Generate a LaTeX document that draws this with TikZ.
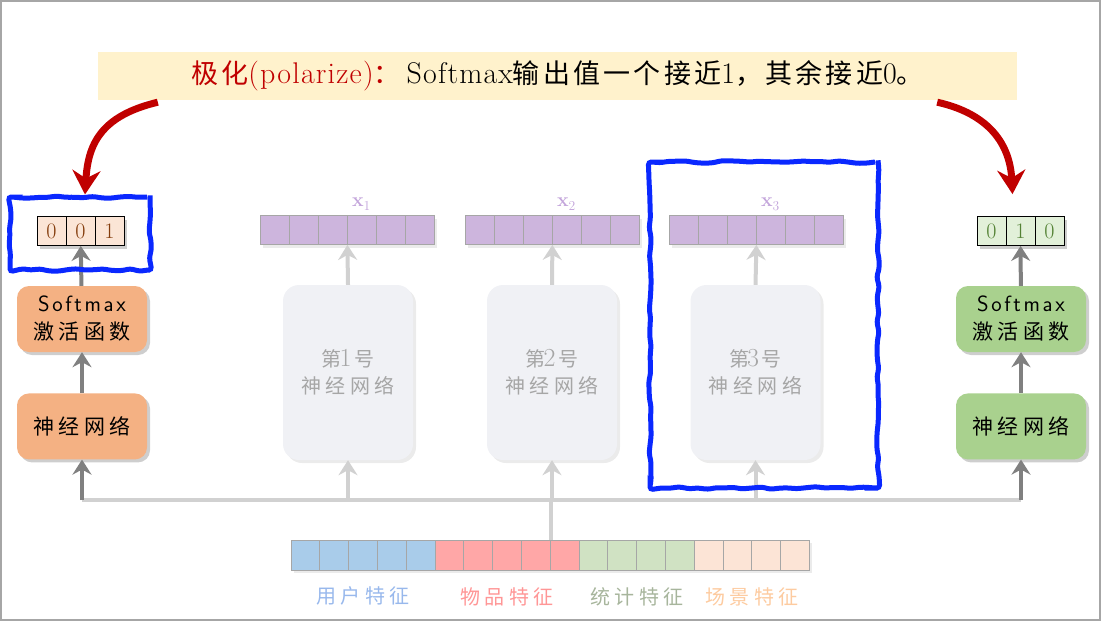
\documentclass[tikz,border=0pt]{standalone}
\usepackage{fontspec}
\setmainfont{Latin Modern Roman}[Scale=1.3]
\setsansfont{Latin Modern Sans}[Scale=1.3, LetterSpace=12]
\newfontfamily\cjk[LetterSpace=22]{Noto Sans CJK SC}
\newfontfamily\cjkt[LetterSpace=12]{Noto Sans CJK SC}
\usetikzlibrary{positioning, arrows.meta, calc, shadows, decorations.pathmorphing}

\definecolor{titlebg}{HTML}{FFF2CC}
\definecolor{tred}{HTML}{C00000}
\definecolor{obox}{HTML}{F4B183}
\definecolor{ocell}{HTML}{FBE5D6}
\definecolor{otext}{HTML}{843C0C}
\definecolor{gbox}{HTML}{A9D18E}
\definecolor{gcell}{HTML}{E2F0D9}
\definecolor{gtext}{HTML}{548235}
\definecolor{pcell}{HTML}{CDB5DD}
\definecolor{ptext}{HTML}{C3A5DB}
\definecolor{netbg}{HTML}{F0F1F5}
\definecolor{nettext}{HTML}{A6A6A6}
\definecolor{hlblue}{HTML}{0A28FF}
\definecolor{fblue}{HTML}{A9CCEA}
\definecolor{fred}{HTML}{FFA7A7}
\definecolor{fgreen}{HTML}{D0E2C3}
\definecolor{fpeach}{HTML}{FCE4D6}
\newcommand{\tcjk}[1]{{\cjkt\fontsize{27}{30}\selectfont #1}}

\begin{document}
\begin{tikzpicture}[x=1pt, y=-1pt, font=\fontsize{20}{25}\selectfont,
  garrow/.style={line width=4pt, -{Stealth[length=15pt, width=19pt, inset=5pt]}},
  darrow/.style={garrow, draw=black!50},
  larrow/.style={garrow, draw=black!18},
  bus/.style={line width=4pt, draw=black!18},
  redarrow/.style={line width=7pt, draw=tred, -{Stealth[length=24pt, width=28pt, inset=8pt]}},
  shd/.style={drop shadow={shadow xshift=3pt, shadow yshift=-3pt, opacity=0.35, fill=black!55}},
  lshd/.style={drop shadow={shadow xshift=3pt, shadow yshift=-3pt, opacity=0.2, fill=black!40}},
  box/.style={rounded corners=12pt, minimum width=130pt, minimum height=66pt, align=center, inner sep=2pt, shd},
  netbox/.style={fill=netbg, rounded corners=16pt, minimum width=130pt, minimum height=175pt, align=center, text=nettext, lshd},
  cell/.style={draw=black!35, minimum width=29pt, minimum height=29pt, inner sep=0pt, line width=0.8pt},
  bcell/.style={draw=black, minimum width=29pt, minimum height=29pt, inner sep=0pt, line width=0.8pt, font=\fontsize{17}{18}\selectfont},
  hl/.style={draw=hlblue, line width=5pt, rounded corners=3pt, decorate,
    decoration={random steps, segment length=9pt, amplitude=1.3pt}}]
  \useasboundingbox (0,0) rectangle (1102,621);
  \draw[black!35, line width=1.5pt] (1,1) rectangle (1100,620);
  \pgfmathsetseed{7}

  % title
  \node[fill=titlebg, minimum width=919pt, minimum height=48pt, font=\fontsize{23}{26}\selectfont\addfontfeature{LetterSpace=4}] (title) at (557.5,76)
    {{\color{tred}\tcjk{极化}(polarize)\tcjk{：}}\hspace{6pt}Softmax\tcjk{输出值一个接近}1\tcjk{，其余接近}0\tcjk{。}};

  % left model
  \node[box, fill=obox] (smL) at (82,319) {\sffamily\fontsize{17}{22}\selectfont Softmax\\[3pt]{\cjk\fontsize{21}{22}\selectfont 激活函数}};
  \node[box, fill=obox, below=41pt of smL] (nnL) {{\cjk\fontsize{21}{22}\selectfont 神经网络}};
  \foreach \v [count=\i] in {0,0,1}
    \node[bcell, fill=ocell, text=otext, shd] (oL\i) at ({22.5+29*\i},231) {\v};

  % right model
  \node[box, fill=gbox] (smR) at (1021,319) {\sffamily\fontsize{17}{22}\selectfont Softmax\\[3pt]{\cjk\fontsize{21}{22}\selectfont 激活函数}};
  \node[box, fill=gbox, below=41pt of smR] (nnR) {{\cjk\fontsize{21}{22}\selectfont 神经网络}};
  \foreach \v [count=\i] in {0,1,0}
    \node[bcell, fill=gcell, text=gtext, shd] (oR\i) at ({962.5+29*\i},231) {\v};

  % three nets in the middle
  \foreach \k/\cx/\sx in {1/348/245.5, 2/552/450.5, 3/755.5/654.5} {
    \node[netbox] (net\k) at (\cx,372.5) {{\cjk 第}\kern-2pt\k\kern3pt{\cjk 号}\\[2pt]{\cjk 神经网络}};
    \foreach \i in {1,...,6}
      \node[cell, fill=pcell, lshd] (x\k-\i) at ({\sx+29*\i},230) {};
    \node[text=ptext, font=\fontsize{15}{16}\selectfont\bfseries, above=0pt of x\k-4.north] {x\textsubscript{\mdseries\k}};
    \draw[larrow] (net\k.north) -- (x\k-3.south east);
  }

  % feature vector
  \foreach \c [count=\i] in {fblue,fblue,fblue,fblue,fblue,fred,fred,fred,fred,fred,fgreen,fgreen,fgreen,fgreen,fpeach,fpeach,fpeach,fpeach}
    \node[cell, fill=\c, minimum width=28.8pt, minimum height=30pt, lshd] (f\i) at ({276.6+28.8*\i},555) {};
  \node[text=fblue!90!blue] at ([yshift=-26pt]f3.south) {\cjk 用户特征};
  \node[text=fred!90!red] at ([yshift=-26pt]f8.south) {\cjk 物品特征};
  \node[text=fgreen!80!black] at ([yshift=-26pt]f12.south east) {\cjk 统计特征};
  \node[text=fpeach!75!orange] at ([yshift=-26pt]f16.south east) {\cjk 场景特征};

  % bus
  \coordinate (hub) at (549,500);
  \draw[bus] (f9.north east) -- (f9.north east |- hub);
  \draw[bus] (nnL.south |- hub) -- (nnR.south |- hub);
  \draw[darrow] (nnL.south |- hub) -- (nnL.south);
  \draw[darrow] (nnR.south |- hub) -- (nnR.south);
  \foreach \k in {1,2,3}
    \draw[larrow] (net\k.south |- hub) -- (net\k.south);
  \draw[darrow] (nnL) -- (smL);
  \draw[darrow] (smL) -- (oL2);
  \draw[darrow] (nnR) -- (smR);
  \draw[darrow] (smR) -- (oR2);

  % highlights
  \node[hl, minimum width=140pt, minimum height=73pt] (hlL) at (80,233.5) {};
  \node[hl, minimum width=228pt, minimum height=326pt] (hlM) at (764,325) {};

  % polarize arrows
  \draw[redarrow] ([xshift=60pt, yshift=-2pt]title.south west) .. controls (100,116) and (88,145) .. ([xshift=5pt]hlL.north);
  \draw[redarrow] ([xshift=-80pt, yshift=-2pt]title.south east) .. controls (990,114) and (1010,145) .. ([xshift=-8pt, yshift=22pt]oR2.north);
\end{tikzpicture}
\end{document}
